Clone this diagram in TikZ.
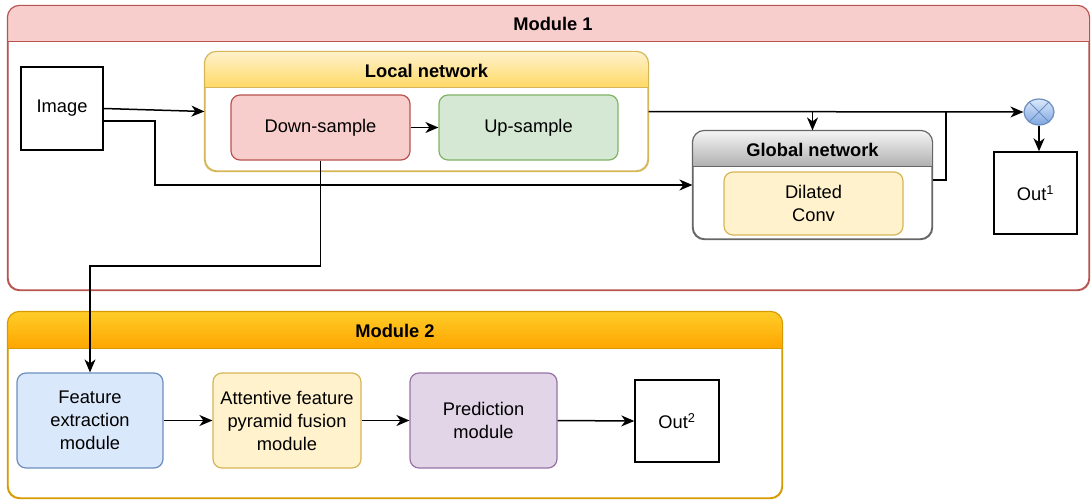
\documentclass[tikz,border=0pt]{standalone}
\usepackage{fontspec}
\setmainfont{Liberation Sans}
\usetikzlibrary{arrows.meta,calc,shapes.geometric}

\definecolor{redfill}{HTML}{F8CECC}
\definecolor{redline}{HTML}{B85450}
\definecolor{yelfill}{HTML}{FFF2CC}
\definecolor{yeldeep}{HTML}{FFD966}
\definecolor{yelline}{HTML}{D6B656}
\definecolor{grnfill}{HTML}{D5E8D4}
\definecolor{grnline}{HTML}{82B366}
\definecolor{blufill}{HTML}{DAE8FC}
\definecolor{bludeep}{HTML}{7EA6E0}
\definecolor{bluline}{HTML}{6C8EBF}
\definecolor{purfill}{HTML}{E1D5E7}
\definecolor{purline}{HTML}{9673A6}
\definecolor{gryfill}{HTML}{F5F5F5}
\definecolor{grydeep}{HTML}{B0B0B0}
\definecolor{gryline}{HTML}{666666}
\definecolor{orgfill}{HTML}{FFCD28}
\definecolor{orgdeep}{HTML}{FFA500}
\definecolor{orgline}{HTML}{D79B00}

\tikzset{
  base/.style={font=\fontsize{18.3}{23}\selectfont, align=center, inner sep=0pt},
  lane/.style n args={3}{base, draw=#3, line width=1.2pt, fill=white, rounded corners=12pt,
    minimum width=#1, minimum height=#2},
  lanetitle/.style={base, font=\fontsize{18.3}{23}\selectfont\bfseries},
  block/.style n args={4}{base, draw=#2, fill=#1, line width=1.2pt, rounded corners=9pt,
    minimum width=#3, minimum height=#4},
  plain/.style n args={2}{base, draw=black, line width=1.4pt, fill=white,
    minimum width=#1, minimum height=#2},
  arr/.style={-{Stealth[length=13pt,width=11pt,inset=4pt]}, line width=1.5pt, black},
  wire/.style={line width=1.5pt, black},
}

% title strip of a container node: name, strip height, top colour, bottom colour, border colour
\newcommand{\titlestrip}[5]{%
  \begin{scope}
    \clip[rounded corners=12pt] (#1.north west) rectangle (#1.south east);
    \shade[top color=#3, bottom color=#4]
      (#1.north west) rectangle ($(#1.north east)+(0,#2)$);
  \end{scope}
  \draw[#5, line width=1.2pt] ($(#1.north west)+(0,#2)$) -- ($(#1.north east)+(0,#2)$);
  \draw[#5, line width=1.2pt, rounded corners=12pt] (#1.north west) rectangle (#1.south east);
}

\begin{document}
\begin{tikzpicture}[x=1pt, y=-1pt]
\useasboundingbox (0,0) rectangle (1091,500);

% ---------------- Module 1 ----------------
\node[lane={1081pt}{284pt}{redline}] (mod1) at (548.5,148) {};
\titlestrip{mod1}{36}{redfill}{redfill}{redline}
\node[lanetitle] (mod1t) at (553,24) {Module 1};

\node[plain={82pt}{83pt}] (img) at (62,108.5) {Image};

% Local network
\node[lane={443pt}{119pt}{yelline}] (local) at (426.5,111.5) {};
\titlestrip{local}{36}{yelfill}{yeldeep}{yelline}
\node[lanetitle] (localt) at (426.5,71) {Local network};
\node[block={redfill}{redline}{179pt}{65pt}] (down) at (320.5,127.5) {Down-sample};
\node[block={grnfill}{grnline}{179pt}{65pt}] (up) at (528.5,127.5) {Up-sample};

% Global network
\node[lane={239pt}{108pt}{gryline}] (global) at (812.5,185) {};
\titlestrip{global}{36}{gryfill}{grydeep}{gryline}
\node[lanetitle] (globalt) at (812.5,150) {Global network};
\node[block={yelfill}{yelline}{179pt}{63pt}] (dil) at (813.5,203.5) {Dilated\\Conv};

% Multiplication node
\node[ellipse, draw=bluline, line width=1.2pt, top color=blufill, bottom color=bludeep,
      minimum width=30pt, minimum height=26pt, inner sep=0pt] (mul) at (1039,112) {};
\draw[bluline, line width=1pt] (mul.45) -- (mul.225) (mul.135) -- (mul.315);

\node[plain={83pt}{82pt}] (out1) at (1035.5,193) {Out\textsuperscript{1}};

% ---------------- Module 2 ----------------
\node[lane={774pt}{186pt}{orgline}] (mod2) at (395,405) {};
\titlestrip{mod2}{37}{orgfill}{orgdeep}{orgline}
\node[lanetitle] (mod2t) at (395,331) {Module 2};

\node[block={blufill}{bluline}{146pt}{95pt}] (fem) at (90,420.5) {Feature\\extraction\\module};
\node[block={yelfill}{yelline}{148pt}{95pt}] (afp) at (287,420.5) {Attentive feature\\pyramid fusion\\module};
\node[block={purfill}{purline}{147pt}{95pt}] (pred) at (483.5,420.5) {Prediction\\module};
\node[plain={84pt}{82pt}] (out2) at (677,421) {Out\textsuperscript{2}};

% ---------------- Connectors ----------------
\coordinate (bendA) at (155,0);
\coordinate (bendB) at (90,266);
\coordinate (jn) at (global.north |- local.east);
\coordinate (jn2) at (946,0);

\draw[arr] (img.east) -- (local.west);
\draw[arr] ($(img.east)+(0,12.5)$) -| (bendA |- global.west) -- (global.west);
\draw[arr] (down.east) -- (up.west);
\draw[arr] (local.east) -- (mul.west);
\draw[arr] (jn) -- (global.north);
\draw[wire] ($(global.east)+(0,-5)$) -| (jn2 |- local.east);
\draw[arr] (mul.south) -- (mul.south |- out1.north);
\draw[arr] (down.south) |- (bendB) -| (fem.north);

\draw[arr] (fem.east) -- (afp.west);
\draw[arr] (afp.east) -- (pred.west);
\draw[arr] (pred.east) -- (out2.west);
\end{tikzpicture}
\end{document}
